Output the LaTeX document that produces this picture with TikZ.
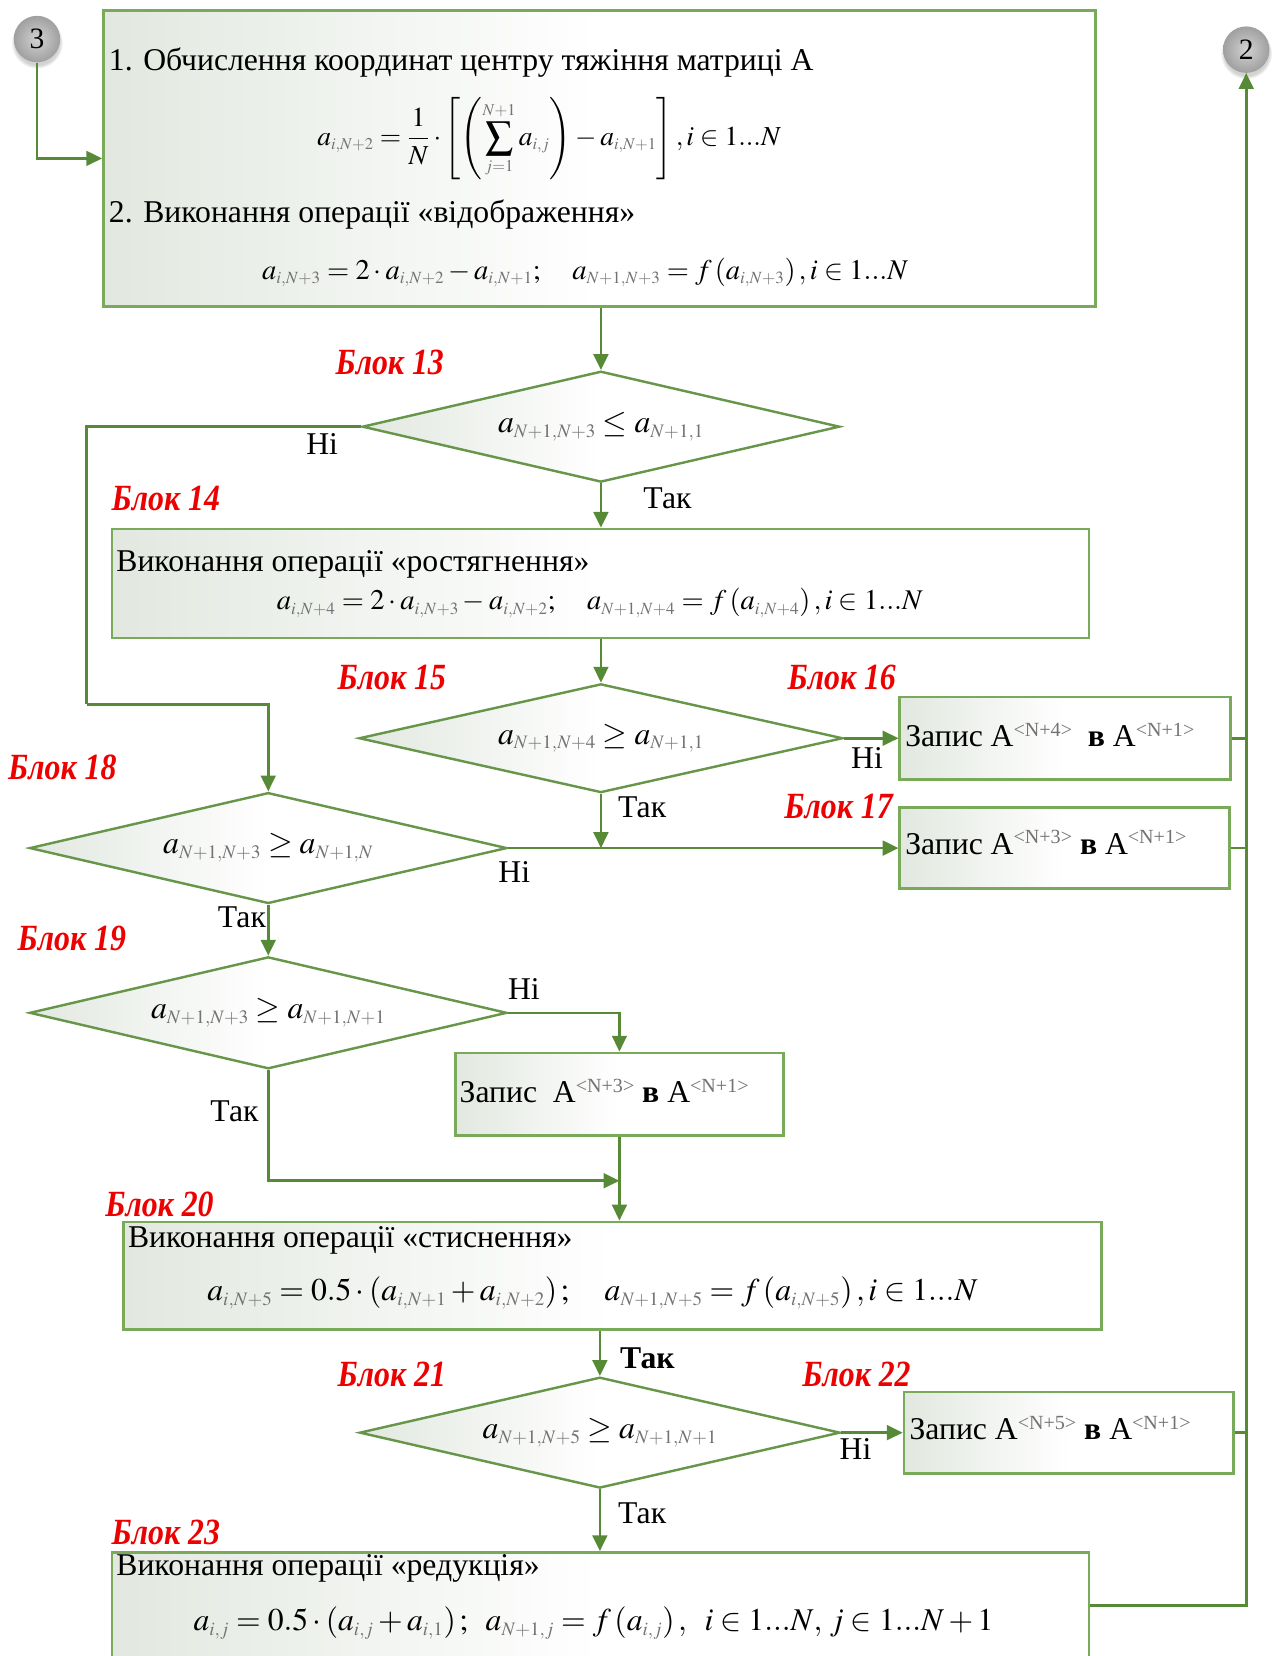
\documentclass[tikz,border=0pt]{standalone}
\usepackage{mathptmx}
\usepackage{fontspec}
\setmainfont{Liberation Serif}
\usetikzlibrary{shapes.geometric,arrows.meta,shadows}

\definecolor{boxgreen}{RGB}{120,170,90}
\definecolor{linegreen}{RGB}{86,138,54}
\definecolor{shadegray}{RGB}{226,232,224}
\definecolor{lblred}{RGB}{236,0,0}
\definecolor{idxgray}{RGB}{115,115,115}

% small grey indices in formulas (colour kept inside the index group)
\newcommand\lo[1]{_{{\color{idxgray}\scriptscriptstyle #1}}}
\newcommand\hi[1]{^{{\color{idxgray}\scriptscriptstyle #1}}}
% grey column index in text
\newcommand\upidx[1]{\raisebox{0.33em}{\fontsize{19}{19}\selectfont\color{idxgray}#1}}
% block caption
\newcommand\blk[1]{\scalebox{0.86}[1]{Блок #1}}

\begin{document}
\begin{tikzpicture}[x=1pt,y=-1pt,
  box/.style={rectangle, draw=boxgreen, line width=2.6pt, inner sep=0pt,
    left color=shadegray, right color=white, middle color=white},
  dec/.style={diamond, draw=linegreen!90, line width=2.3pt, inner sep=0pt,
    left color=shadegray, right color=white, middle color=white,
    font=\fontsize{30}{32}\selectfont},
  conn/.style={draw=linegreen, line width=2.4pt},
  arr/.style={conn, -{Triangle[length=15pt,width=14pt]}},
  lbl/.style={font=\fontsize{35}{36}\selectfont\bfseries\itshape, text=lblred, inner sep=0pt},
  yn/.style={font=\fontsize{30}{31}\selectfont, inner sep=0pt},
  txt/.style={font=\fontsize{30}{32}\selectfont, inner sep=0pt, anchor=base west},
  eq/.style={inner sep=0pt},
  link/.style={circle, minimum size=44pt, inner sep=0pt, shading=radial,
    inner color=gray!35, outer color=gray!75, font=\fontsize{28}{28}\selectfont,
    circular drop shadow={shadow xshift=0pt, shadow yshift=-3pt, shadow scale=1.12, opacity=0.35}},
]
\useasboundingbox (0,0) rectangle (1207,1568);
\clip (0,0) rectangle (1207,1568);

% off-page connectors
\node[link] (c3) at (35,37) {3};
\node[link] (c2) at (1180,47) {2};

% process boxes
\node[box, minimum width=939pt, minimum height=280pt] (b1) at (567.5,150) {};
\node[box, minimum width=925pt, minimum height=103pt] (b14) at (568.5,552.5) {};
\node[box, minimum width=313pt, minimum height=78pt] (b16) at (1008.5,699) {};
\node[box, minimum width=312pt, minimum height=77pt] (b17) at (1008,803) {};
\node[box, minimum width=311pt, minimum height=78pt] (b19) at (586.5,1036) {};
\node[box, minimum width=926pt, minimum height=102pt] (b20) at (580,1208) {};
\node[box, minimum width=312pt, minimum height=77pt] (b22) at (1012,1356.5) {};
\node[box, minimum width=925pt, minimum height=100pt] (b23) at (568.5,1520) {};

% decisions
\node[dec, aspect=4.3, minimum width=452pt, minimum height=105pt] (d13) at (569,404)
  {$a\lo{N+1,N+3}\le a\lo{N+1,1}$};
\node[dec, aspect=4.45, minimum width=458pt, minimum height=103pt] (d15) at (569,699)
  {$a\lo{N+1,N+4}\ge a\lo{N+1,1}$};
\node[dec, aspect=4.3, minimum width=452pt, minimum height=105pt] (d18) at (254,803)
  {$a\lo{N+1,N+3}\ge a\lo{N+1,N}$};
\node[dec, aspect=4.26, minimum width=452pt, minimum height=106pt] (d19) at (254,959)
  {$a\lo{N+1,N+3}\ge a\lo{N+1,N+1}$};
\node[dec, aspect=4.33, minimum width=455pt, minimum height=105pt] (d21) at (568,1356.5)
  {$a\lo{N+1,N+5}\ge a\lo{N+1,N+1}$};

% box texts
\node[txt] (t1a) at (103,67) {1. Обчислення координат центру тяжіння матриці А};
\node[eq, font=\fontsize{26}{28}\selectfont] (e1a) at (520,131) {$\displaystyle a\lo{i,N+2}=\frac{1}{N}\cdot\left[\left(\sum\limits\lo{j=1}\hi{N+1}a\lo{i,j}\right)-a\lo{i,N+1}\right], i\in 1...N$};
\node[txt] (t1b) at (103,211) {2. Виконання операції «відображення»};
\node[eq, font=\fontsize{27}{29}\selectfont] (e1b) at (554,258) {$a\lo{i,N+3}=2\cdot a\lo{i,N+2}-a\lo{i,N+1};\quad a\lo{N+1,N+3}=f\left(a\lo{i,N+3}\right), i\in 1...N$};

\node[txt] (t14) at (110,541) {Виконання операції «ростягнення»};
\node[eq, font=\fontsize{27}{29}\selectfont] (e14) at (568,571) {$a\lo{i,N+4}=2\cdot a\lo{i,N+3}-a\lo{i,N+2};\quad a\lo{N+1,N+4}=f\left(a\lo{i,N+4}\right), i\in 1...N$};

\node[txt] (t16) at (857,707) {Запис А\upidx{<N+4>}\enspace\textbf{в} А\upidx{<N+1>}};
\node[txt] (t17) at (857,809) {Запис А\upidx{<N+3>} \textbf{в} А\upidx{<N+1>}};
\node[txt] (t19) at (435,1044) {Запис\enspace А\upidx{<N+3>} \textbf{в} А\upidx{<N+1>}};

\node[txt] (t20) at (121,1181) {Виконання операції «стиснення»};
\node[eq, font=\fontsize{30}{32}\selectfont] (e20) at (561,1224) {$a\lo{i,N+5}=0.5\cdot\left(a\lo{i,N+1}+a\lo{i,N+2}\right);\quad a\lo{N+1,N+5}=f\left(a\lo{i,N+5}\right), i\in 1...N$};

\node[txt] (t22) at (861,1363) {Запис А\upidx{<N+5>} \textbf{в} А\upidx{<N+1>}};

\node[txt] (t23) at (110,1492) {Виконання операції «редукція»};
\node[eq, font=\fontsize{30}{32}\selectfont] (e23) at (562,1537) {$a\lo{i,j}=0.5\cdot\left(a\lo{i,j}+a\lo{i,1}\right);\;\; a\lo{N+1,j}=f\left(a\lo{i,j}\right),\;\; i\in 1...N,\, j\in 1...N+1$};

% block captions
\node[lbl] (l13) at (369,343) {\blk{13}};
\node[lbl] (l14) at (157,472) {\blk{14}};
\node[lbl] (l15) at (371,641) {\blk{15}};
\node[lbl] (l16) at (797,641) {\blk{16}};
\node[lbl] (l17) at (794,764) {\blk{17}};
\node[lbl] (l18) at (59,727) {\blk{18}};
\node[lbl] (l19) at (68,889) {\blk{19}};
\node[lbl] (l20) at (151,1140) {\blk{20}};
\node[lbl] (l21) at (371,1301) {\blk{21}};
\node[lbl] (l22) at (811,1301) {\blk{22}};
\node[lbl] (l23) at (157,1451) {\blk{23}};

% branch labels
\node[yn] (n13) at (305,420) {Ні};
\node[yn] (y13) at (632,472) {Так};
\node[yn] (n15) at (821,718) {Ні};
\node[yn] (y15) at (608,764) {Так};
\node[yn] (n18) at (487,826) {Ні};
\node[yn] (y18) at (229,869) {Так};
\node[yn] (n19) at (496,936) {Ні};
\node[yn] (y19) at (222,1052) {Так};
\node[yn, font=\fontsize{30}{31}\selectfont\bfseries] (y20) at (613,1286) {Так};
\node[yn] (n21) at (810,1372) {Ні};
\node[yn] (y21) at (608,1433) {Так};

% helper points
\coordinate (lA) at (82,667);
\coordinate (jy) at (0,1118);
\coordinate (jn) at (b19.south |- jy);

% connectors
\draw[arr] (c3.south) |- (b1.west);
\draw[arr] (b1.south -| d13.north) -- (d13.north);
\draw[arr] (d13.south) -- (d13.south |- b14.north);
\draw[arr] (b14.south -| d15.north) -- (d15.north);
\draw[arr] (d15.east) -- (b16.west);
\draw[arr] (d15.south) -- (d15.south |- d18.east);
\draw[conn] (d13.west) -| (lA);
\draw[arr] (lA) -| (d18.north);
\draw[arr] (d18.east) -- (b17.west);
\draw[arr] (d18.south) -- (d19.north);
\draw[arr] (d19.east) -| (b19.north);
\draw[arr] (d19.south) |- (jn);
\draw[arr] (b19.south) -- (b19.south |- b20.north);
\draw[arr] (b20.south -| d21.north) -- (d21.north);
\draw[arr] (d21.east) -- (b22.west);
\draw[arr] (d21.south) -- (d21.south |- b23.north);
\draw[conn] (b16.east) -- (b16.east -| c2.south);
\draw[conn] (b17.east) -- (b17.east -| c2.south);
\draw[conn] (b22.east) -- (b22.east -| c2.south);
\draw[arr] (b23.east) -| (c2.south);
\end{tikzpicture}
\end{document}
